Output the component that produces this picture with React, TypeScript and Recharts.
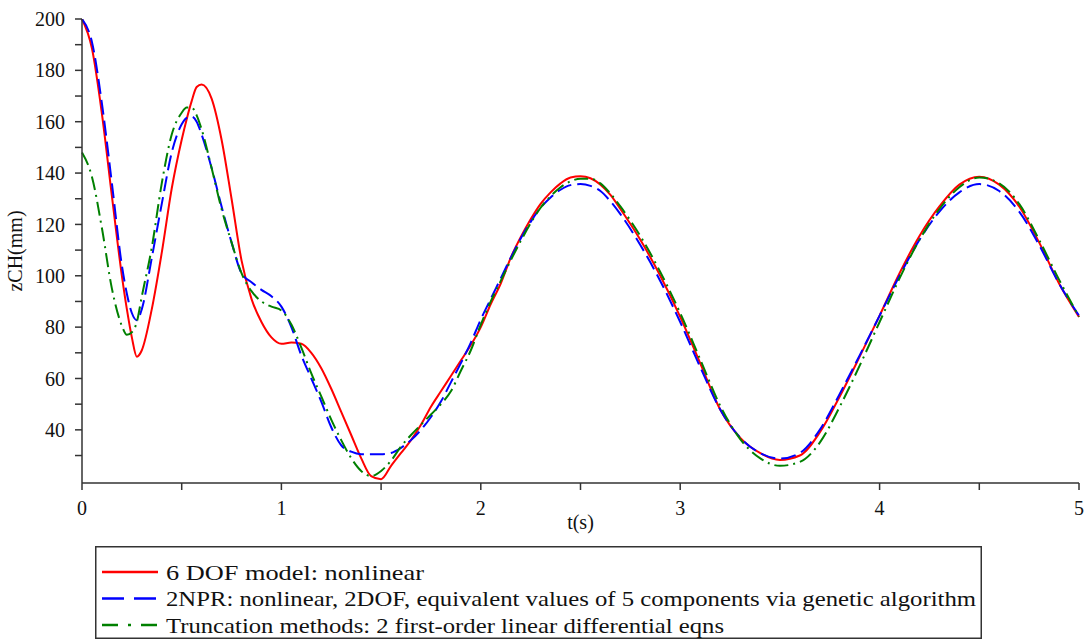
import { LineChart, Line, XAxis, YAxis, Legend } from 'recharts'

// time samples (s)
const tSec = [
  0, 0.05, 0.1, 0.15, 0.2, 0.225, 0.25, 0.275, 0.3, 0.35, 0.4, 0.45, 0.5, 0.525, 0.55, 0.575,
  0.6, 0.65, 0.7, 0.75, 0.8, 0.85, 0.9, 0.95, 1.0, 1.05, 1.1, 1.15, 1.2, 1.25, 1.3, 1.35,
  1.4, 1.45, 1.5, 1.55, 1.6, 1.65, 1.7, 1.75, 1.8, 1.85, 1.9, 1.95, 2.0, 2.05, 2.1, 2.15,
  2.2, 2.25, 2.3, 2.35, 2.4, 2.45, 2.5, 2.55, 2.6, 2.65, 2.7, 2.8, 2.9, 3.0, 3.1, 3.2,
  3.3, 3.4, 3.5, 3.6, 3.7, 3.8, 3.9, 4.0, 4.1, 4.2, 4.3, 4.4, 4.5, 4.6, 4.7, 4.8, 4.9, 5.0,
]

// zCH (mm), 6 DOF model
const sixDof = [
  200, 188.5, 163, 131, 100, 87, 76, 68.5, 71, 87, 109, 134, 153, 161, 168, 173.5,
  174.5, 169, 153, 130, 106, 91, 82, 76, 73.5, 74, 73.5, 70, 64, 56, 47, 38,
  29, 22, 20.8, 26, 31, 36, 42, 49, 55, 61, 67, 73, 80, 89, 97, 107,
  115, 122, 128, 132.5, 136, 138.3, 138.8, 138, 135.5, 131.5, 126, 114, 100, 84, 66, 48,
  37, 31, 28.3, 30, 39, 53, 68.5, 84.5, 101, 115.5, 127, 135.5, 138.6, 135.5, 127, 113, 97, 84,
]

// 2NPR
const twoNpr = [
  200, 191, 167, 136, 104, 93, 85.5, 82.7, 87, 107, 128, 148, 159, 161.5, 162, 160,
  155, 142, 127, 113, 101, 97.5, 94.5, 92, 88, 80, 69, 60, 51, 41, 34, 31.5,
  30.5, 30.5, 30.5, 31, 33, 36, 40, 45, 51, 58.5, 66, 74, 83, 91, 99, 107,
  114.5, 121, 126.5, 130.5, 133.5, 135.3, 135.7, 135, 133, 129, 124, 112, 98, 82, 64.5, 48,
  37, 31, 28.8, 31, 40, 54, 69, 84.5, 100, 114, 125, 132.5, 135.7, 133, 125, 112, 97, 84.5,
]

// truncation method
const truncation = [
  148, 138.5, 118.5, 95, 80.5, 77, 78, 82, 92, 111, 136, 155, 163.5, 165.5, 165.5, 162.5,
  157, 142, 126, 113, 101, 94, 90, 88, 86.5, 81, 72, 62, 53, 44, 36, 29,
  24, 22, 24, 28, 33.5, 38, 42, 46, 50, 55, 63, 71, 81, 90, 98, 106,
  113.5, 120.5, 126.5, 131, 134.5, 136.8, 137.8, 137.8, 136, 132, 127, 115.5, 101.5, 85.5, 67.5, 49.5,
  36.5, 29, 26, 27.5, 35, 49, 65, 82, 99, 114, 126, 134.5, 138.3, 136, 128, 114, 98.5, 84,
]

const seriesNames = [
  '6 DOF model: nonlinear',
  '2NPR: nonlinear, 2DOF, equivalent values of 5 components via genetic algorithm',
  'Truncation methods: 2 first-order linear differential eqns',
]
const seriesColors = ['#ff0000', '#0000ff', '#008000']
const plotDash = [undefined, '15 6', '14 5 2 5']
const legendDash = [undefined, '22 10', '16 10 3 10 16']
const legendTextWidth = [258, 810, 558]

const xTicks = [0, 0.5, 1, 1.5, 2, 2.5, 3, 3.5, 4, 4.5, 5]
const yTicks = [30, 40, 50, 60, 70, 80, 90, 100, 110, 120, 130, 140, 150, 160, 170, 180, 190, 200]

const data = tSec.map((t, i) => ({
  t,
  sixDof: sixDof[i],
  twoNpr: twoNpr[i],
  truncation: truncation[i],
}))

const FONT = "'Liberation Serif', 'Times New Roman', serif"

function BoxLegend({ payload }: any) {
  // keep the series order of the plot, whatever order the payload arrives in
  const rows = [...(payload ?? [])].sort(
    (a: any, b: any) => seriesNames.indexOf(a.value) - seriesNames.indexOf(b.value),
  )
  return (
    <svg width={887} height={93} style={{ display: 'block' }}>
      <rect x={0.75} y={0.75} width={885.5} height={91.5} fill="#fff" stroke="#333" strokeWidth={1.5} />
      {rows.map((p: any) => {
        const i = seriesNames.indexOf(p.value)
        const y = 26 + i * 26.5
        return (
          <g key={p.value}>
            <line x1={7} x2={63} y1={y} y2={y} stroke={seriesColors[i]} strokeWidth={2.5} strokeDasharray={legendDash[i]} />
            <text
              x={71}
              y={y}
              dy="0.35em"
              fontSize={22}
              style={{ fontFamily: FONT }}
              fill="#111"
              textLength={legendTextWidth[i]}
              lengthAdjust="spacingAndGlyphs"
            >
              {p.value}
            </text>
          </g>
        )
      })}
    </svg>
  )
}

export default function App() {
  const axisStroke = { stroke: '#333', strokeWidth: 1.5 }
  const tickStyle = { fontSize: 20, fill: '#111', style: { fontFamily: FONT } }
  return (
    <div style={{ position: 'absolute', left: 0, top: 0, width: 1084, height: 639, background: '#fff', fontFamily: FONT }}>
      <LineChart width={1084} height={639} data={data} margin={{ top: 19, right: 5, bottom: 96, left: 0 }}>
        <XAxis
          dataKey="t"
          type="number"
          domain={[0, 5]}
          ticks={xTicks}
          interval={0}
          height={60}
          tickSize={7}
          tickMargin={11}
          axisLine={axisStroke}
          tickLine={axisStroke}
          tick={tickStyle}
          tickFormatter={(v: number) => (Number.isInteger(v) ? String(v) : '')}
          label={{ value: 't(s)', position: 'insideBottom', offset: 14, style: { fontSize: 20, fill: '#111', fontFamily: FONT } }}
        />
        <YAxis
          type="number"
          domain={[19.3, 200]}
          allowDataOverflow
          ticks={yTicks}
          interval={0}
          width={82}
          tickSize={7}
          tickMargin={10}
          axisLine={axisStroke}
          tickLine={axisStroke}
          tick={tickStyle}
          tickFormatter={(v: number) => (v % 20 === 0 ? String(v) : '')}
          label={{
            value: 'zCH(mm)',
            angle: -90,
            position: 'insideLeft',
            offset: 15,
            style: { fontSize: 20, fill: '#111', fontFamily: FONT, textAnchor: 'middle' },
          }}
        />
        <Line type="monotone" dataKey="sixDof" name={seriesNames[0]} stroke={seriesColors[0]} strokeWidth={2} strokeDasharray={plotDash[0]} dot={false} isAnimationActive={false} />
        <Line type="monotone" dataKey="twoNpr" name={seriesNames[1]} stroke={seriesColors[1]} strokeWidth={2} strokeDasharray={plotDash[1]} dot={false} isAnimationActive={false} />
        <Line type="monotone" dataKey="truncation" name={seriesNames[2]} stroke={seriesColors[2]} strokeWidth={2} strokeDasharray={plotDash[2]} dot={false} isAnimationActive={false} />
        <Legend
          layout="horizontal"
          verticalAlign="middle"
          align="center"
          content={<BoxLegend />}
          wrapperStyle={{ left: 95, top: 546, width: 887, height: 93 }}
        />
      </LineChart>
    </div>
  )
}
